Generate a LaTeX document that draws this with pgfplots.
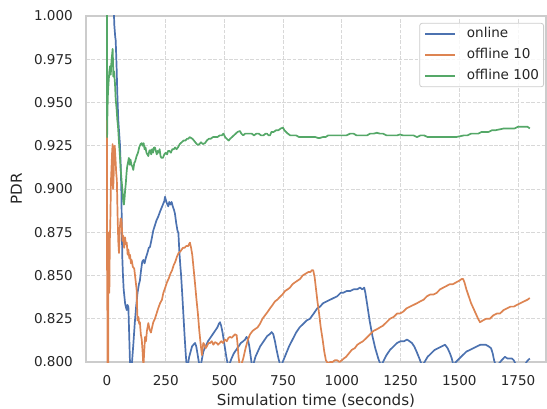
\documentclass[border=0pt]{standalone}
\usepackage{fontspec}
\setmainfont{DejaVu Sans}
\usepackage{pgfplots}
\pgfplotsset{compat=1.18}
\definecolor{sblue}{RGB}{76,114,176}
\definecolor{sorange}{RGB}{221,132,82}
\definecolor{sgreen}{RGB}{85,168,104}
\definecolor{txt}{HTML}{262626}
\definecolor{frame}{HTML}{CCCCCC}
\definecolor{gridc}{HTML}{D8D8D8}
\begin{document}
\begin{tikzpicture}[font=\fontsize{13.6}{16.3}\selectfont]
\begin{axis}[
  scale only axis, width=460bp, height=346bp,
  xmin=-89.4, xmax=1869, ymin=0.8, ymax=1.0,
  xtick={0,250,...,1750},
  ytick={0.8,0.825,0.85,0.875,0.9,0.925,0.95,0.975,1.0},
  y tick label style={/pgf/number format/fixed,/pgf/number format/fixed zerofill,/pgf/number format/precision=3},
  /pgf/number format/assume math mode=true,
  x tick label style={/pgf/number format/1000 sep={}},
  major tick length=0pt,
  tick style={draw=none},
  every tick label/.append style={text=txt},
  yticklabel style={anchor=east, inner sep=0pt, xshift=-13bp},
  xticklabel style={anchor=north, inner sep=0pt, yshift=-13bp},
  grid=major,
  major grid style={draw=gridc, line width=0.9bp, dash pattern=on 3.7bp off 1.6bp},
  axis line style={draw=frame, line width=1.25bp},
  every axis x label/.style={at={(axis description cs:0.5,0)}, anchor=north, yshift=-32bp, inner sep=0pt, text=txt, font=\fontsize{15.2}{18}\selectfont},
  every axis y label/.style={at={(axis description cs:-0.139,0.5)}, rotate=90, anchor=south, inner sep=0pt, text=txt, font=\fontsize{15.2}{18}\selectfont},
  xlabel={Simulation time (seconds)},
  ylabel={PDR},
  legend image code/.code={\draw[#1] (0bp,0bp) -- (30bp,0bp);},
  legend style={at={(axis description cs:0.9957,0.98)}, anchor=north east,
    draw=frame, line width=0.8bp, rounded corners=2.5bp, fill=white, fill opacity=0.8, text opacity=1,
    inner xsep=4.5bp, inner ysep=4bp, column sep=11bp, row sep=7.5bp,
    nodes={inner sep=0pt, text height=10bp, text depth=3.5bp, anchor=west, text=txt}},
  legend cell align=left,
  clip=true,
  every axis plot/.append style={line width=1.7bp, line join=round},
]
\addplot[sblue] coordinates {
(0,1.004) (29,1.004) (31,0.995) (35,0.988) (37,0.986) (39,0.978) (41,0.970) (44,0.955) (48,0.940) (51,0.934) (55,0.926) (58,0.915) (61,0.900) (63,0.880) (65,0.861) (68,0.850) (71,0.842) (74,0.838) (77,0.834) (80,0.832) (84,0.830) (87,0.833) (91,0.832) (94,0.818) (98,0.799) (102,0.795) (106,0.799) (112,0.810) (118,0.822) (124,0.832) (130,0.840) (136,0.845) (140,0.847) (145,0.853) (150,0.858) (155,0.859) (160,0.857) (165,0.860) (172,0.863) (178,0.866) (183,0.8665) (190,0.871) (197,0.876) (204,0.879) (211,0.882) (218,0.884) (226,0.887) (232,0.889) (238,0.891) (244,0.893) (247,0.8955) (252,0.893) (257,0.891) (261,0.890) (265,0.8925) (270,0.891) (275,0.8925) (280,0.890) (285,0.888) (289,0.886) (295,0.880) (300,0.876) (304,0.8745) (308,0.864) (312,0.856) (315,0.851) (320,0.840) (325,0.828) (330,0.816) (335,0.805) (339,0.798) (345,0.799) (350,0.803) (356,0.806) (362,0.809) (368,0.810) (375,0.811) (380,0.809) (385,0.805) (391,0.800) (396,0.797) (402,0.800) (410,0.806) (420,0.809) (430,0.812) (440,0.814) (450,0.816) (460,0.818) (470,0.820) (476,0.822) (481,0.823) (486,0.821) (492,0.817) (500,0.810) (508,0.803) (515,0.798) (522,0.799) (530,0.802) (540,0.805) (550,0.807) (560,0.809) (570,0.811) (580,0.812) (588,0.813) (594,0.8145) (600,0.813) (606,0.809) (612,0.803) (617,0.798) (624,0.799) (632,0.803) (642,0.806) (652,0.809) (662,0.811) (672,0.813) (682,0.815) (692,0.816) (701,0.8173) (708,0.816) (715,0.812) (722,0.807) (730,0.802) (738,0.798) (745,0.799) (760,0.804) (775,0.809) (790,0.813) (805,0.817) (820,0.820) (835,0.822) (850,0.824) (864,0.825) (880,0.828) (895,0.831) (907,0.832) (920,0.834) (935,0.835) (950,0.836) (965,0.837) (980,0.838) (995,0.840) (1005,0.840) (1020,0.841) (1035,0.841) (1050,0.842) (1065,0.842) (1077,0.843) (1087,0.842) (1095,0.843) (1100,0.840) (1108,0.833) (1118,0.824) (1130,0.815) (1142,0.808) (1155,0.802) (1166,0.798) (1175,0.800) (1190,0.804) (1205,0.807) (1220,0.809) (1235,0.811) (1250,0.812) (1265,0.812) (1277,0.813) (1288,0.812) (1298,0.811) (1308,0.809) (1318,0.806) (1330,0.802) (1341,0.798) (1352,0.800) (1365,0.803) (1380,0.805) (1395,0.807) (1410,0.808) (1425,0.809) (1439,0.810) (1450,0.808) (1460,0.805) (1468,0.802) (1475,0.798) (1485,0.800) (1500,0.802) (1515,0.804) (1530,0.806) (1545,0.807) (1560,0.808) (1575,0.809) (1590,0.810) (1600,0.810) (1612,0.810) (1625,0.809) (1635,0.808) (1642,0.805) (1648,0.801) (1655,0.798) (1668,0.799) (1680,0.801) (1694,0.803) (1705,0.802) (1715,0.802) (1724,0.802) (1732,0.801) (1742,0.798) (1760,0.797) (1778,0.798) (1786,0.800) (1792,0.801) (1800,0.802)
};
\addlegendentry{online}
\addplot[sorange] coordinates {
(0,1.004) (0.5,0.83) (1.5,0.87) (2.5,0.79) (4,0.785) (5,0.80) (6,0.86) (8,0.875) (10,0.84) (12,0.87) (14,0.88) (17,0.905) (20,0.915) (22,0.922) (24,0.926) (26,0.90) (28,0.905) (30,0.92) (33,0.925) (36,0.918) (39,0.910) (42,0.905) (45,0.885) (48,0.870) (51,0.863) (55,0.878) (58,0.883) (62,0.882) (66,0.870) (69,0.873) (73,0.866) (77,0.872) (80,0.868) (84,0.869) (88,0.862) (91,0.865) (95,0.860) (98,0.862) (102,0.857) (105,0.859) (110,0.855) (116,0.854) (121,0.848) (126,0.842) (128,0.832) (130,0.824) (134,0.826) (137,0.822) (140,0.823) (144,0.816) (148,0.813) (152,0.805) (155,0.797) (158,0.805) (162,0.8145) (166,0.812) (170,0.818) (176,0.8225) (181,0.819) (187,0.817) (192,0.820) (197,0.823) (204,0.825) (211,0.828) (218,0.831) (226,0.834) (234,0.836) (240,0.840) (248,0.843) (255,0.846) (262,0.848) (270,0.851) (277,0.853) (284,0.856) (291,0.858) (298,0.861) (305,0.863) (313,0.864) (323,0.866) (330,0.866) (337,0.867) (345,0.867) (353,0.869) (358,0.866) (363,0.862) (368,0.855) (375,0.845) (381,0.836) (387,0.828) (393,0.818) (399,0.810) (404,0.804) (410,0.811) (415,0.810) (420,0.808) (425,0.809) (432,0.811) (439,0.811) (446,0.812) (453,0.810) (460,0.8115) (467,0.811) (473,0.810) (480,0.811) (487,0.812) (494,0.811) (502,0.813) (510,0.812) (517,0.814) (524,0.8145) (531,0.814) (538,0.815) (545,0.816) (552,0.8155) (556,0.810) (560,0.803) (566,0.797) (573,0.799) (580,0.802) (590,0.808) (600,0.813) (609,0.816) (620,0.818) (630,0.819) (641,0.820) (651,0.822) (662,0.825) (673,0.827) (684,0.829) (694,0.831) (705,0.833) (715,0.835) (725,0.836) (736,0.8376) (747,0.839) (758,0.841) (769,0.842) (779,0.843) (790,0.845) (800,0.846) (811,0.847) (822,0.848) (833,0.850) (845,0.851) (857,0.852) (866,0.852) (872,0.853) (878,0.853) (884,0.849) (890,0.842) (896,0.835) (903,0.828) (910,0.820) (918,0.813) (925,0.806) (932,0.801) (941,0.799) (950,0.800) (960,0.800) (970,0.801) (980,0.801) (990,0.800) (1000,0.801) (1008,0.802) (1018,0.803) (1030,0.805) (1042,0.807) (1055,0.808) (1066,0.810) (1077,0.811) (1090,0.812) (1105,0.814) (1120,0.816) (1135,0.818) (1150,0.819) (1162,0.820) (1175,0.821) (1190,0.823) (1205,0.825) (1220,0.826) (1235,0.828) (1247,0.828) (1260,0.829) (1275,0.831) (1290,0.832) (1305,0.833) (1320,0.834) (1333,0.835) (1348,0.836) (1362,0.838) (1376,0.839) (1390,0.839) (1404,0.840) (1418,0.842) (1432,0.843) (1446,0.844) (1460,0.845) (1473,0.845) (1486,0.846) (1500,0.847) (1510,0.848) (1516,0.848) (1522,0.846) (1530,0.842) (1540,0.838) (1550,0.834) (1560,0.831) (1570,0.828) (1580,0.825) (1588,0.823) (1600,0.824) (1615,0.825) (1630,0.825) (1645,0.827) (1660,0.828) (1673,0.828) (1688,0.830) (1703,0.831) (1718,0.832) (1732,0.832) (1745,0.833) (1760,0.834) (1775,0.835) (1790,0.836) (1800,0.837)
};
\addlegendentry{offline 10}
\addplot[sgreen] coordinates {
(0,1.004) (0.5,0.930) (2,0.945) (4,0.955) (7,0.962) (10,0.968) (13,0.971) (16,0.966) (19,0.974) (22,0.978) (24,0.981) (26,0.972) (27,0.965) (30,0.968) (34,0.961) (37,0.952) (41,0.946) (44,0.940) (47,0.936) (51,0.927) (55,0.919) (58,0.912) (62,0.905) (66,0.899) (69,0.893) (72,0.891) (75,0.895) (77,0.899) (80,0.903) (83,0.909) (86,0.913) (89,0.915) (93,0.918) (97,0.914) (100,0.917) (104,0.914) (108,0.913) (112,0.911) (116,0.915) (120,0.916) (126,0.919) (132,0.921) (137,0.924) (143,0.926) (148,0.9265) (152,0.925) (156,0.9265) (160,0.923) (164,0.924) (168,0.921) (172,0.920) (176,0.919) (180,0.922) (184,0.9225) (188,0.920) (192,0.923) (196,0.921) (200,0.924) (204,0.924) (208,0.922) (212,0.920) (216,0.922) (220,0.921) (224,0.923) (228,0.919) (232,0.918) (238,0.918) (244,0.920) (250,0.921) (256,0.920) (260,0.922) (266,0.922) (272,0.921) (278,0.923) (284,0.923) (290,0.924) (296,0.923) (302,0.924) (310,0.926) (318,0.927) (326,0.928) (334,0.928) (340,0.929) (346,0.929) (352,0.930) (358,0.9295) (364,0.929) (370,0.928) (376,0.927) (382,0.926) (387,0.9255) (394,0.926) (400,0.927) (408,0.926) (417,0.9265) (425,0.928) (433,0.929) (441,0.929) (451,0.930) (460,0.930) (470,0.930) (480,0.931) (489,0.931) (496,0.932) (503,0.930) (510,0.929) (518,0.928) (524,0.929) (532,0.930) (540,0.931) (548,0.932) (556,0.933) (566,0.9335) (572,0.932) (580,0.931) (588,0.932) (596,0.932) (606,0.932) (616,0.932) (626,0.931) (636,0.932) (646,0.932) (656,0.931) (666,0.931) (675,0.932) (681,0.932) (688,0.931) (694,0.931) (700,0.933) (710,0.933) (720,0.934) (730,0.934) (740,0.935) (749,0.9355) (755,0.934) (762,0.933) (770,0.932) (780,0.931) (792,0.931) (805,0.931) (818,0.930) (830,0.930) (842,0.930) (853,0.930) (864,0.930) (876,0.930) (888,0.930) (898,0.9295) (907,0.9295) (918,0.930) (930,0.930) (942,0.931) (955,0.931) (968,0.931) (980,0.931) (992,0.931) (1005,0.931) (1020,0.931) (1035,0.932) (1050,0.932) (1062,0.931) (1075,0.931) (1090,0.931) (1107,0.931) (1120,0.932) (1135,0.932) (1149,0.9325) (1162,0.932) (1175,0.932) (1190,0.931) (1205,0.931) (1220,0.931) (1235,0.931) (1247,0.9315) (1260,0.931) (1275,0.931) (1290,0.931) (1305,0.931) (1320,0.930) (1335,0.931) (1350,0.931) (1365,0.930) (1380,0.930) (1395,0.930) (1410,0.930) (1425,0.930) (1440,0.930) (1455,0.930) (1470,0.930) (1485,0.930) (1503,0.9305) (1520,0.931) (1535,0.931) (1550,0.932) (1565,0.932) (1580,0.932) (1595,0.933) (1610,0.933) (1625,0.933) (1640,0.934) (1655,0.934) (1673,0.9345) (1690,0.935) (1705,0.935) (1720,0.935) (1735,0.935) (1750,0.936) (1760,0.936) (1770,0.936) (1780,0.936) (1790,0.936) (1800,0.935)
};
\addlegendentry{offline 100}
\coordinate (ll) at (rel axis cs:0,0);
\coordinate (ur) at (rel axis cs:1,1);
\end{axis}
\pgfresetboundingbox
\path ([shift={(-86bp,-47bp)}]ll) rectangle ([shift={(1bp,16bp)}]ur);
\end{tikzpicture}
\end{document}
